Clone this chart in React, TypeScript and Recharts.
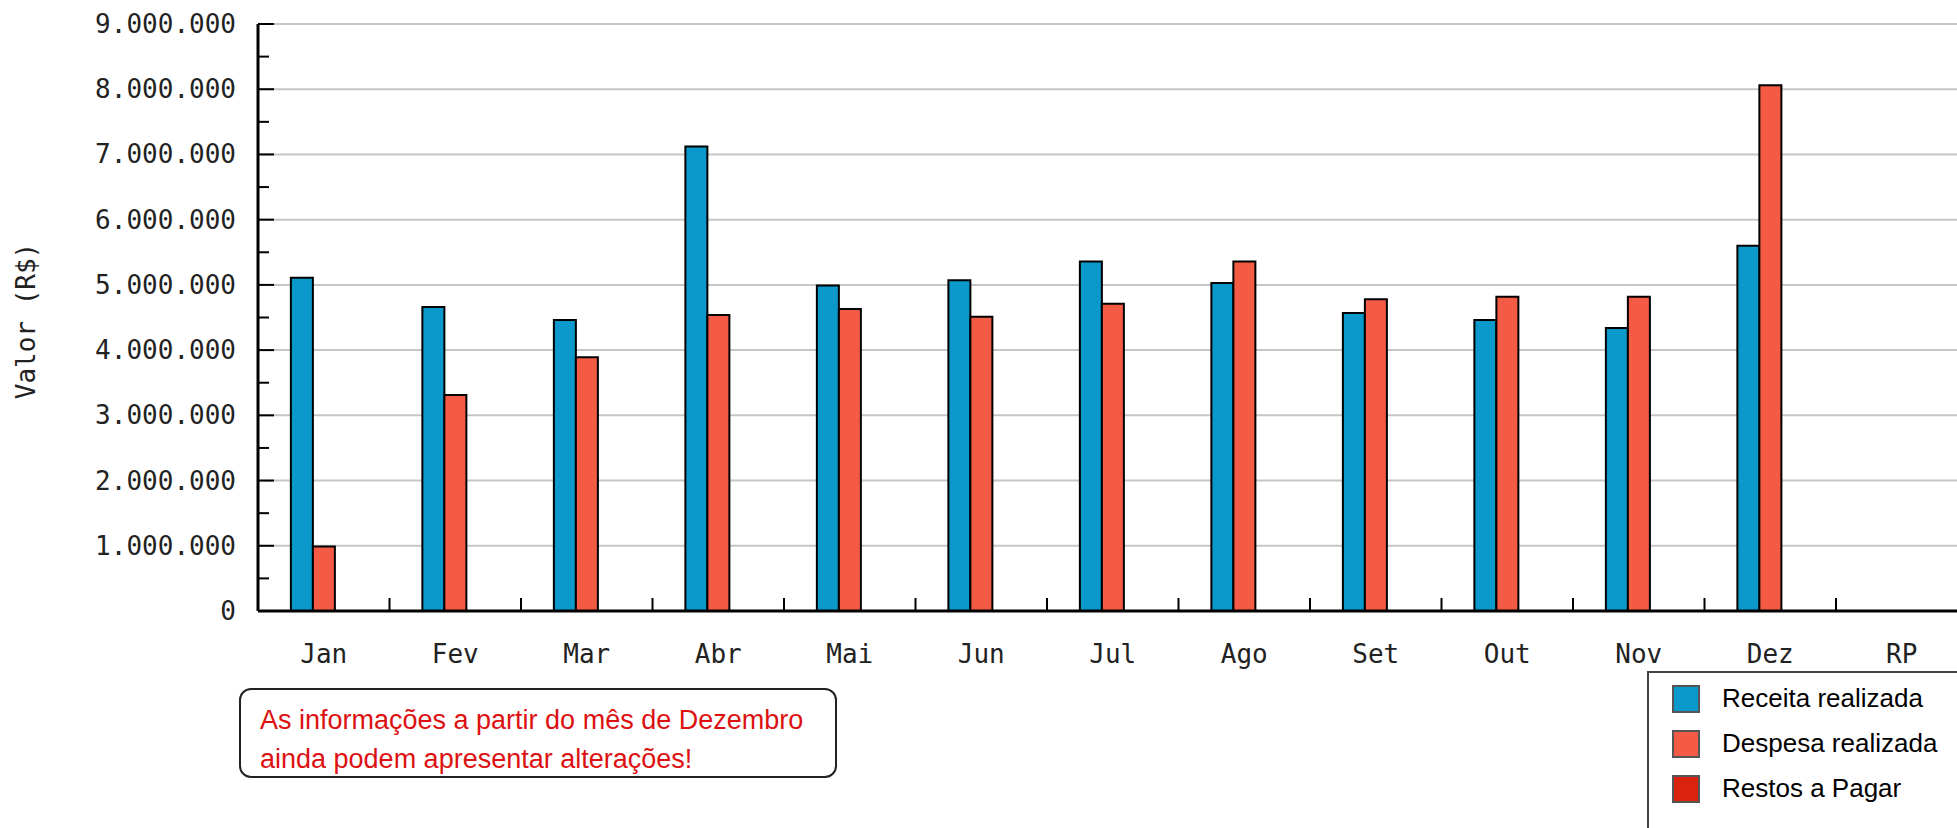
import { BarChart, Bar, XAxis, YAxis, CartesianGrid, Legend } from 'recharts'

// dados (R$)
const MONTHS = ['Jan', 'Fev', 'Mar', 'Abr', 'Mai', 'Jun', 'Jul', 'Ago', 'Set', 'Out', 'Nov', 'Dez', 'RP']
const RECEITA = [5110000, 4660000, 4460000, 7120000, 4990000, 5070000, 5360000, 5030000, 4570000, 4460000, 4340000, 5600000, null]
const DESPESA = [990000, 3310000, 3890000, 4540000, 4630000, 4510000, 4710000, 5360000, 4780000, 4820000, 4820000, 8060000, null]
const RESTOS = [null, null, null, null, null, null, null, null, null, null, null, null, null]

const SERIES_NAMES = ['Receita realizada', 'Despesa realizada', 'Restos a Pagar']

const Y_TICKS = [
  0, 500000, 1000000, 1500000, 2000000, 2500000, 3000000, 3500000, 4000000, 4500000,
  5000000, 5500000, 6000000, 6500000, 7000000, 7500000, 8000000, 8500000, 9000000,
]
const Y_MAJOR = [0, 1000000, 2000000, 3000000, 4000000, 5000000, 6000000, 7000000, 8000000, 9000000]

const COLORS = {
  receita: '#0b98cb',
  despesa: '#f45b45',
  restos: '#d9230f',
}

// layout
const CHART_W = 1980
const CHART_H = 828
const AXIS_W = 258
const MARGIN = { top: 24, right: 12.5, left: 0, bottom: 157 }
const PLOT_W = CHART_W - AXIS_W - MARGIN.left - MARGIN.right
const BAND = PLOT_W / MONTHS.length

const monoFont = '"DejaVu Sans Mono", monospace'
const sansFont = '"Liberation Sans", Arial, sans-serif'

const data = MONTHS.map((m, i) => ({
  month: m,
  receita: RECEITA[i],
  despesa: DESPESA[i],
  restos: RESTOS[i],
}))

function fmt(v: number): string {
  return String(v).replace(/\B(?=(\d{3})+(?!\d))/g, '.')
}

function YTick(props: any) {
  const { x, y, payload } = props
  const v = Number(payload.value)
  const major = v % 1000000 === 0
  return (
    <g>
      <line x1={x} x2={x + (major ? 16 : 11)} y1={y} y2={y} stroke="#000" strokeWidth={2} />
      {major && (
        <text x={x - 22} y={y} dy={9} textAnchor="end" fontFamily={monoFont} fontSize={26} fill="#222">
          {fmt(v)}
        </text>
      )}
    </g>
  )
}

function XTick(props: any) {
  const { x, y, payload } = props
  const half = BAND / 2
  return (
    <g>
      <line x1={x + half} x2={x + half} y1={y} y2={y - 13} stroke="#000" strokeWidth={2} />
      <text x={x} y={y + 52} textAnchor="middle" fontFamily={monoFont} fontSize={26} fill="#222">
        {payload.value}
      </text>
    </g>
  )
}

function YLabel() {
  return (
    <text
      x={26} y={321}
      transform="rotate(-90, 26, 321)"
      textAnchor="middle" dominantBaseline="central"
      fontFamily={monoFont} fontSize={26} fill="#222"
    >
      Valor (R$)
    </text>
  )
}

function LegendBox(props: any) {
  const items = [...(props.payload ?? [])].sort(
    (a: any, b: any) => SERIES_NAMES.indexOf(a.value) - SERIES_NAMES.indexOf(b.value),
  )
  return (
    <div style={{
      width: 400, height: 220, boxSizing: 'border-box',
      borderLeft: '2px solid #444', borderTop: '2px solid #444',
      background: '#fff', paddingTop: 3, paddingLeft: 23,
    }}>
      {items.map((it: any) => (
        <div key={it.value} style={{ display: 'flex', alignItems: 'center', height: 45 }}>
          <span style={{
            width: 28, height: 28, boxSizing: 'border-box',
            background: it.color, border: '2px solid #555', marginRight: 22,
          }} />
          <span style={{ fontFamily: sansFont, fontSize: 26, color: '#000' }}>{it.value}</span>
        </div>
      ))}
    </div>
  )
}

export default function App() {
  return (
    <div style={{
      position: 'fixed', left: 0, top: 0, width: 1957, height: 828,
      overflow: 'hidden', background: '#fff',
    }}>
      <BarChart
        width={CHART_W} height={CHART_H} data={data} margin={MARGIN}
        barCategoryGap="25%" barGap={0}
      >
        <CartesianGrid
          vertical={false} horizontalValues={Y_MAJOR}
          stroke="#c6c6c6" strokeWidth={2}
        />
        <XAxis
          dataKey="month" type="category" height={60} interval={0}
          tickSize={0} tickMargin={0} tickLine={false}
          axisLine={{ stroke: '#000', strokeWidth: 3 }}
          tick={<XTick />}
        />
        <YAxis
          type="number" domain={[0, 9000000]} ticks={Y_TICKS} interval={0}
          width={AXIS_W} tickSize={0} tickMargin={0} tickLine={false}
          axisLine={{ stroke: '#000', strokeWidth: 3 }}
          tick={<YTick />}
          label={{ content: () => <YLabel /> }}
        />
        <Legend
          layout="vertical" align="center" verticalAlign="middle"
          itemSorter={null}
          wrapperStyle={{ left: 1647, top: 671, width: 400, height: 220 }}
          content={<LegendBox />}
        />
        <Bar dataKey="receita" name={SERIES_NAMES[0]} fill={COLORS.receita} stroke="#000" strokeWidth={2} isAnimationActive={false} />
        <Bar dataKey="despesa" name={SERIES_NAMES[1]} fill={COLORS.despesa} stroke="#000" strokeWidth={2} isAnimationActive={false} />
        <Bar dataKey="restos" name={SERIES_NAMES[2]} fill={COLORS.restos} stroke="#000" strokeWidth={2} isAnimationActive={false} />
      </BarChart>
      <div style={{
        position: 'absolute', left: 239, top: 688, width: 598, height: 90,
        boxSizing: 'border-box', border: '2px solid #222', borderRadius: 12,
        paddingTop: 11, paddingLeft: 19,
        fontFamily: sansFont, fontSize: 27, lineHeight: '39px', color: '#dd1111',
        whiteSpace: 'nowrap', background: '#fff',
      }}>
        As informações a partir do mês de Dezembro<br />
        ainda podem apresentar alterações!
      </div>
    </div>
  )
}
